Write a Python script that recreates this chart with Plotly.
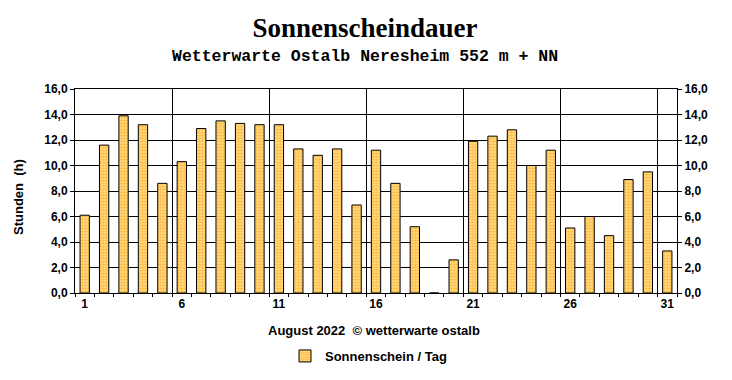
import plotly.graph_objects as go

days = list(range(1, 32))
sunshine = [6.1, 11.6, 13.9, 13.2, 8.6, 10.3, 12.9, 13.5, 13.3, 13.2,
            13.2, 11.3, 10.8, 11.3, 6.9, 11.2, 8.6, 5.2, 0.0, 2.6,
            11.9, 12.3, 12.8, 10.0, 11.2, 5.1, 6.0, 4.5, 8.9, 9.5, 3.3]
label_days = [1, 6, 11, 16, 21, 26, 31]
y_ticks = [0, 2, 4, 6, 8, 10, 12, 14, 16]

title = "Sonnenscheindauer"
subtitle = "Wetterwarte Ostalb Neresheim 552 m + NN"
footer = "August 2022 \u00a0© wetterwarte ostalb"
series_name = "Sonnenschein / Tag"
y_title = "Stunden \u00a0(h)"

W, H = 732, 380
L, R, T, B = 75, 55, 89, 87
pw, ph = W - L - R, H - T - B

def px_x(p):
    return (p - L) / pw

def px_y(p):
    return (H - B - p) / ph

sans = "Liberation Sans, Arial, sans-serif"
fig = go.Figure()

fig.add_trace(go.Bar(
    x=days, y=sunshine, name=series_name, width=0.48,
    marker=dict(color="#FFC860",
                line=dict(color="black", width=1),
                pattern=dict(shape=".", fgcolor="#FF9400", bgcolor="#FFE490",
                             size=3, solidity=0.65)),
    hoverinfo="x+y",
))
# helper trace for the overlay axes (right labels, vertical grid)
fig.add_trace(go.Scatter(
    x=days, y=sunshine, xaxis="x2", yaxis="y2", mode="markers",
    marker=dict(opacity=0), showlegend=False, hoverinfo="skip",
))

grid_x = [d - 0.5 for d in label_days[1:]]

fig.update_layout(
    width=W, height=H,
    margin=dict(l=L, r=R, t=T, b=B, autoexpand=False),
    paper_bgcolor="white", plot_bgcolor="white",
    separators=",.",
    showlegend=True,
    xaxis=dict(
        range=[0.5, 31.5], tickvals=label_days, ticktext=[str(d) for d in label_days],
        ticks="", showgrid=False, zeroline=False, automargin=False,
        showline=True, linecolor="black", linewidth=1, mirror=True,
        tickfont=dict(family=sans, size=12, color="black", weight="bold"),
        minor=dict(tick0=0.5, dtick=1, ticks="outside", ticklen=3,
                   tickcolor="black", tickwidth=1, showgrid=False),
    ),
    xaxis2=dict(
        overlaying="x", matches="x", range=[0.5, 31.5], tickvals=grid_x,
        showticklabels=False, ticks="", showgrid=True, gridcolor="black",
        gridwidth=1, zeroline=False, showline=False, automargin=False,
    ),
    yaxis=dict(
        range=[0, 16], tickvals=y_ticks, tickformat=".1f", automargin=False,
        ticks="outside", ticklen=4, tickcolor="black",
        showgrid=True, gridcolor="black", gridwidth=1, zeroline=False,
        showline=True, linecolor="black", linewidth=1, mirror=True,
        tickfont=dict(family=sans, size=12, color="black", weight="bold"),
    ),
    yaxis2=dict(
        overlaying="y", matches="y", side="right", range=[0, 16], automargin=False,
        tickvals=y_ticks, tickformat=".1f",
        ticks="outside", ticklen=4, tickcolor="black",
        showgrid=False, zeroline=False, showline=False,
        tickfont=dict(family=sans, size=12, color="black", weight="bold"),
    ),
    legend=dict(
        orientation="h", x=px_x(285), xanchor="left", y=px_y(356), yanchor="middle",
        font=dict(family=sans, size=13, color="black", weight="bold"),
        bgcolor="rgba(0,0,0,0)",
    ),
    title=dict(
        text=title, x=365 / W, xanchor="center", y=1 - 28 / H, yanchor="middle",
        font=dict(family="Liberation Serif, Times New Roman, serif", size=27,
                  color="black", weight="bold"),
    ),
    annotations=[
        dict(text=subtitle, xref="paper", yref="paper", x=px_x(365), y=px_y(57),
             xanchor="center", yanchor="middle", showarrow=False,
             font=dict(family="Liberation Mono, Courier New, monospace", size=16.5,
                       color="black", weight="bold")),
        dict(text=footer, xref="paper", yref="paper", x=px_x(374), y=px_y(330),
             xanchor="center", yanchor="middle", showarrow=False,
             font=dict(family=sans, size=13, color="black", weight="bold")),
        dict(text=y_title, xref="paper", yref="paper", x=px_x(18), y=px_y(197),
             xanchor="center", yanchor="middle", showarrow=False, textangle=-90,
             font=dict(family=sans, size=13, color="black", weight="bold")),
    ],
)

fig.write_html("out.html",
               config={"displayModeBar": False},
               post_script="document.body.style.margin='0px';"
                           "document.body.style.overflow='hidden';")
